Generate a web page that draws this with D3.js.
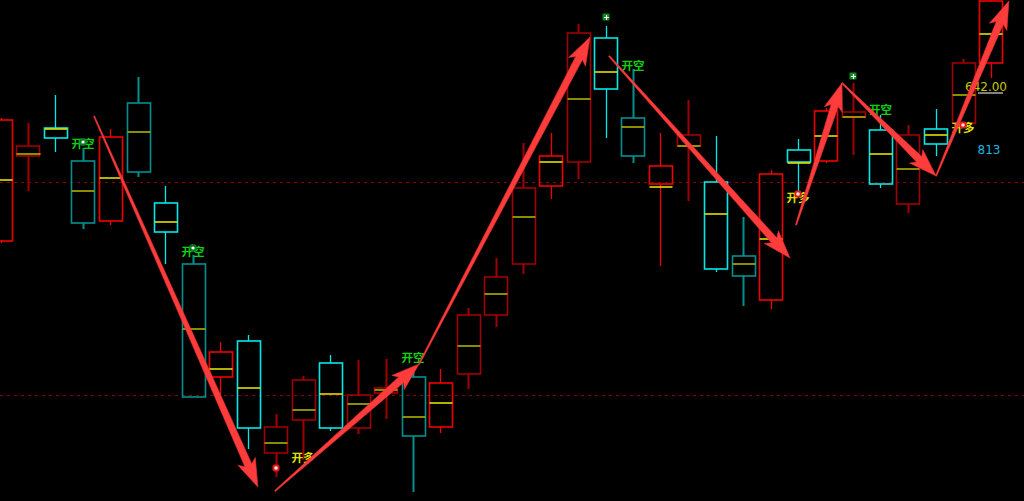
<!DOCTYPE html>
<html>
<head>
<meta charset="utf-8">
<script src="https://cdn.jsdelivr.net/npm/d3@7/dist/d3.min.js"></script>
<style>
html, body { margin:0; padding:0; background:#000; overflow:hidden; }
svg { display:block; }
</style>
</head>
<body>
<div id="chart"></div>
<script>
// candle data, one entry per bar (index 0..36)
const openP  = [5565, 5607.5, 5621.5, 5605, 5575, 5634, 5584, 5553.5, 5497, 5515, 5459, 5475.5, 5504, 5471.5, 5489, 5497, 5472, 5498.5, 5528, 5553.5, 5592.5, 5604.5, 5666.5, 5626.5, 5593.5, 5612.5, 5594.5, 5557.5, 5535.5, 5610.5, 5605, 5627, 5620.5, 5583.5, 5621, 5624, 5654];
const highP  = [5626.5, 5624, 5638, 5611.5, 5621, 5647, 5592.5, 5558, 5514.5, 5518, 5478.5, 5497.5, 5508, 5505.5, 5506, 5499.5, 5501, 5531.5, 5556.5, 5614, 5619, 5673.5, 5672.5, 5651, 5619, 5635.5, 5617.5, 5577, 5600.5, 5616, 5631.5, 5644, 5628, 5623, 5631, 5656, 5688];
const lowP   = [5564, 5590, 5609.5, 5571, 5573, 5597, 5553.5, 5487, 5488, 5461, 5447, 5455.5, 5470, 5468.5, 5476, 5439.5, 5469, 5491, 5522, 5548.5, 5586, 5596, 5616.5, 5604, 5552.5, 5585, 5549.5, 5532.5, 5531, 5589, 5604, 5608, 5591.5, 5579, 5607.5, 5624, 5646.5];
const closeP = [5625.5, 5612.5, 5616.5, 5574, 5617, 5599.5, 5569.5, 5487, 5509.5, 5471.5, 5472, 5495.5, 5471.5, 5488, 5491.5, 5467.5, 5494, 5528, 5547, 5591.5, 5607.5, 5669, 5641, 5607.5, 5602.5, 5618, 5551, 5547.5, 5598.5, 5604.5, 5630, 5629.5, 5593.5, 5618, 5613.5, 5654, 5685];
const avgP   = [5595.5, 5608.5, 5621, 5590, 5596.5, 5619.5, 5574.5, 5521, 5501, 5491.5, 5464, 5480.5, 5488.5, 5483.5, 5490.5, 5477, 5484, 5512.5, 5538.5, 5577, 5604.5, 5636, 5649.5, 5622, 5592, 5612.5, 5578.5, 5553.5, 5566, 5604, 5617.5, 5627, 5608.5, 5601, 5618, 5638, 5668.5];
// 1 = active bar, 0 = faded bar
const active = [1, 0, 1, 0, 1, 0, 1, 0, 1, 1, 0, 0, 1, 0, 0, 0, 1, 0, 0, 0, 1, 0, 1, 0, 1, 0, 1, 0, 1, 1, 1, 0, 1, 0, 1, 0, 1];

// trade signals
const signalIdx   = [3, 7, 11, 15, 23, 29, 32, 35];
const signalPrice = [5614, 5560, 5457, 5507, 5653, 5587, 5631, 5622];
const signalText  = ['开空', '开空', '开多', '开空', '开空', '开多', '开空', '开多'];

const shortMarkIdx   = [22, 31];
const shortMarkPrice = [5677, 5647.5];
const longMarkIdx    = [10, 29, 35];
const longMarkPrice  = [5451.5, 5588.5, 5623];
const glowIdx   = [3, 7];
const glowPrice = [5614.5, 5561.5];

// swing arrows: [fromIdx, fromPrice, toIdx, toPrice]
const swings = [
	[3.4, 5627.5, 9.36, 5442],
	[9.98, 5440, 15.22, 5503.5],
	[15.22, 5503.5, 21.44, 5667],
	[22.13, 5657.5, 28.71, 5556.5],
	[28.93, 5573, 30.6, 5644],
	[30.6, 5644, 34.02, 5597.5],
	[34.02, 5597.5, 36.67, 5685]
];

const levels = [5594.5, 5488];
const lastPrice = '642.00';
const lastPriceLevel = 5642;
const volText = '813';
const volLevel = 5610.5;

const width = 1024;
const height = 501;

const data = openP.map((o, i) => ({
	i: i, open: o, high: highP[i], low: lowP[i], close: closeP[i], avg: avgP[i], active: active[i]
}));

const xScale = d3.scaleLinear()
.domain([0, 36])
.range([0.5, 990.5])

const yScale = d3.scaleLinear()
.domain([5435, 5685.5])
.range([height, 0])

const bw = 23;

const svg = d3.select('#chart').append('svg')
.attr('width', width)
.attr('height', height)
.style('background', '#000')

// dashed levels
svg.append('g')
.selectAll('line')
.data(levels)
.enter()
.append('line')
.attr('x1', 0)
.attr('x2', width)
.attr('y1', d => Math.round(yScale(d)) + 0.5)
.attr('y2', d => Math.round(yScale(d)) + 0.5)
.style('stroke', '#8a0000')
.style('stroke-width', 1)
.style('stroke-dasharray', '3,4')

const upCol = d => d.active ? '#f00000' : '#a00000';
const dnCol = d => d.active ? '#00e8e8' : '#009090';
const col = d => d.close >= d.open ? upCol(d) : dnCol(d);

let candles = svg.append('g')
.selectAll('g')
.data(data)
.enter()
.append('g')
.attr('class', 'candle')

// upper wick
candles.append('line')
.attr('x1', d => Math.round(xScale(d.i)) + 0.5)
.attr('x2', d => Math.round(xScale(d.i)) + 0.5)
.attr('y1', d => yScale(d.high))
.attr('y2', d => yScale(Math.max(d.open, d.close)))
.style('stroke', col)
.style('stroke-width', d => d.active ? 1.3 : 2)

// lower wick
candles.append('line')
.attr('x1', d => Math.round(xScale(d.i)) + 0.5)
.attr('x2', d => Math.round(xScale(d.i)) + 0.5)
.attr('y1', d => yScale(Math.min(d.open, d.close)))
.attr('y2', d => yScale(d.low))
.style('stroke', col)
.style('stroke-width', d => d.active ? 1.3 : 2)

// hollow body
candles.append('rect')
.attr('x', d => Math.round(xScale(d.i) - bw / 2) + 0.5)
.attr('y', d => yScale(Math.max(d.open, d.close)))
.attr('width', bw)
.attr('height', d => Math.max(1, Math.abs(yScale(d.open) - yScale(d.close))))
.style('fill', 'none')
.style('stroke', col)
.style('stroke-width', 1.6)

// average line
candles.append('line')
.attr('x1', d => Math.round(xScale(d.i) - bw / 2) + 0.5)
.attr('x2', d => Math.round(xScale(d.i) + bw / 2) + 0.5)
.attr('y1', d => yScale(d.avg))
.attr('y2', d => yScale(d.avg))
.style('stroke', d => d.active ? '#e0e000' : '#b0b000')
.style('stroke-width', 1.6)

// signal texts
svg.append('g')
.selectAll('text')
.data(signalIdx)
.enter()
.append('text')
.attr('x', d => xScale(d))
.attr('y', (d, i) => yScale(signalPrice[i]))
.attr('text-anchor', 'middle')
.attr('dominant-baseline', 'central')
.style('font-family', '"Noto Sans CJK SC", sans-serif')
.style('font-size', '11.5px')
.style('font-weight', 'bold')
.style('fill', (d, i) => signalText[i] === '开空' ? '#10d010' : '#e0e000')
.text((d, i) => signalText[i])

// small glows on some short labels
let glows = svg.append('g')
.selectAll('g')
.data(glowIdx)
.enter()
.append('g')
.attr('transform', (d, i) => `translate(${xScale(d)},${yScale(glowPrice[i])})`)

glows.append('circle').attr('r', 4).style('fill', '#0a8a2a').style('opacity', 0.8)
glows.append('circle').attr('r', 1.6).style('fill', '#fff')

// short markers (green square with cross)
let shortMarks = svg.append('g')
.selectAll('g')
.data(shortMarkIdx)
.enter()
.append('g')
.attr('transform', (d, i) => `translate(${Math.round(xScale(d))},${Math.round(yScale(shortMarkPrice[i]))})`)

shortMarks.append('rect')
.attr('x', -3.5).attr('y', -3.5).attr('width', 7).attr('height', 7).attr('rx', 1)
.style('fill', '#0b8a1e')
shortMarks.append('path')
.attr('d', 'M-2,0.5H3M0.5,-2V3')
.style('stroke', '#fff')
.style('stroke-width', 1.2)

// long markers (red dot)
let longMarks = svg.append('g')
.selectAll('g')
.data(longMarkIdx)
.enter()
.append('g')
.attr('transform', (d, i) => `translate(${Math.round(xScale(d))},${Math.round(yScale(longMarkPrice[i]))})`)

longMarks.append('rect')
.attr('x', -3.5).attr('y', -3.5).attr('width', 7).attr('height', 7).attr('rx', 2)
.style('fill', '#e01818')
longMarks.append('circle')
.attr('r', 1.8)
.style('fill', '#ffe0e0')

// last price and volume texts
svg.append('text')
.attr('x', 1007)
.attr('y', yScale(lastPriceLevel))
.attr('text-anchor', 'end')
.attr('dominant-baseline', 'central')
.style('font-family', '"DejaVu Sans", sans-serif')
.style('font-size', '12px')
.style('fill', '#c8c800')
.text(lastPrice)

svg.append('rect')
.attr('x', 978)
.attr('y', yScale(lastPriceLevel) + 5)
.attr('width', 25)
.attr('height', 2)
.style('fill', '#808080')

svg.append('text')
.attr('x', 989)
.attr('y', yScale(volLevel))
.attr('text-anchor', 'middle')
.attr('dominant-baseline', 'central')
.style('font-family', '"DejaVu Sans", sans-serif')
.style('font-size', '12px')
.style('fill', '#1fb8e0')
.text(volText)

// tapered arrows
const arrowPath = (s) => {
	let x1 = xScale(s[0]), y1 = yScale(s[1]);
	let x2 = xScale(s[2]), y2 = yScale(s[3]);
	let dx = x2 - x1, dy = y2 - y1;
	let len = Math.sqrt(dx * dx + dy * dy);
	let ux = dx / len, uy = dy / len;
	let nx = -uy, ny = ux;
	let headLen = 28, headW = 19, w0 = 1.2, w1 = 7.5;
	let bx = x2 - ux * headLen, by = y2 - uy * headLen;
	let nb = headLen * 0.15;
	let p = [
		[x1 + nx * w0 / 2, y1 + ny * w0 / 2],
		[bx + ux * nb + nx * w1 / 2, by + uy * nb + ny * w1 / 2],
		[bx + nx * headW / 2, by + ny * headW / 2],
		[x2, y2],
		[bx - nx * headW / 2, by - ny * headW / 2],
		[bx + ux * nb - nx * w1 / 2, by + uy * nb - ny * w1 / 2],
		[x1 - nx * w0 / 2, y1 - ny * w0 / 2]
	];
	return 'M' + p.map(q => q[0].toFixed(1) + ',' + q[1].toFixed(1)).join('L') + 'Z';
}

svg.append('g')
.selectAll('path')
.data(swings)
.enter()
.append('path')
.attr('d', arrowPath)
.style('fill', '#ff3c3c')
.style('stroke', '#e83030')
.style('stroke-width', 0.6)
.style('stroke-linejoin', 'round')
</script>
</body>
</html>
